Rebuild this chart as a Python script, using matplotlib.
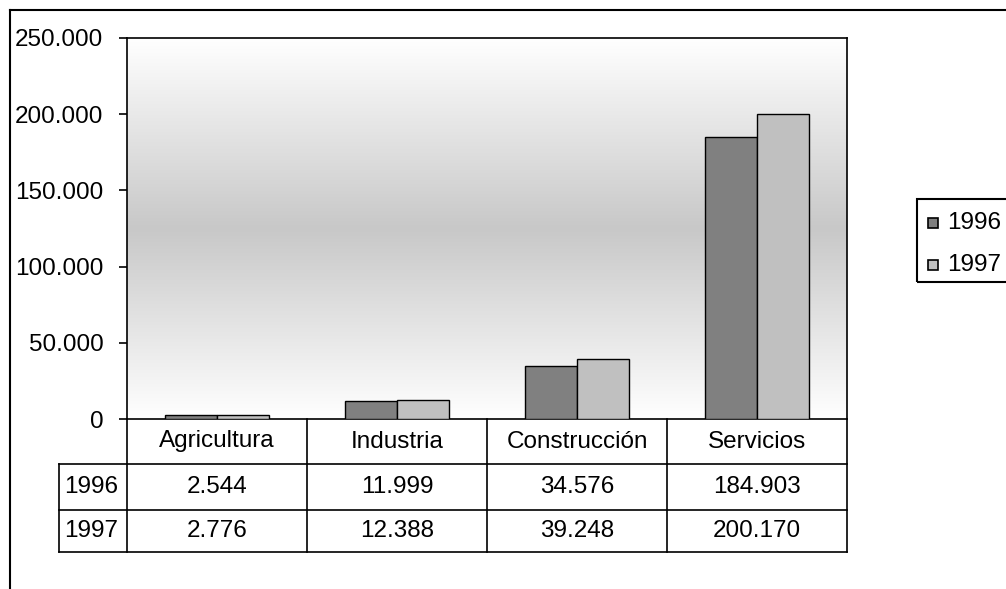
import numpy as np
import matplotlib
matplotlib.use("Agg")
import matplotlib.pyplot as plt
from matplotlib.colors import LinearSegmentedColormap
from matplotlib.patches import Rectangle
from matplotlib.lines import Line2D

categories = ["Agricultura", "Industria", "Construcción", "Servicios"]
years = ["1996", "1997"]
v1996 = [2544, 11999, 34576, 184903]
v1997 = [2776, 12388, 39248, 200170]
yticks = [0, 50000, 100000, 150000, 200000, 250000]

colors = ["#808080", "#c0c0c0"]
FS = 17.5

W, H = 1006, 589
plt.rcParams["font.family"] = ["Liberation Sans", "DejaVu Sans"]
fig = plt.figure(figsize=(W / 100, H / 100), dpi=100)


def fx(px):
    return px / W


def fy(py):
    return 1 - py / H


def fmt(v):
    return f"{v:,}".replace(",", ".")


# plot area in pixels
L, R, T, B = 127, 847, 38, 419
ax = fig.add_axes([fx(L), fy(B), fx(R) - fx(L), fy(T) - fy(B)])

n = len(categories)
x = np.arange(n)
bw = 0.29
ax.bar(x - bw / 2, v1996, bw, color=colors[0], edgecolor="black", linewidth=1, zorder=3)
ax.bar(x + bw / 2, v1997, bw, color=colors[1], edgecolor="black", linewidth=1, zorder=3)

ax.set_xlim(-0.5, n - 0.5)
ax.set_ylim(0, 250000)

# vertical gradient background: white - gray - white
cmap = LinearSegmentedColormap.from_list("bg", ["#ffffff", "#c8c8c8", "#ffffff"])
grad = np.linspace(0, 1, 256).reshape(-1, 1)
ax.imshow(grad, cmap=cmap, aspect="auto", extent=[-0.5, n - 0.5, 0, 250000],
          origin="lower", zorder=0)

ax.set_xticks([])
ax.set_yticks(yticks)
ax.set_yticklabels([fmt(v) for v in yticks], fontsize=FS)
ax.tick_params(axis="y", direction="out", length=6, width=1.2, pad=11)
for s in ax.spines.values():
    s.set_linewidth(1.2)
    s.set_color("black")

# data table below the plot
lw = 1.2
tl = 59
rows_y = [419, 464, 510, 552]


def hline(x0, x1, y):
    fig.add_artist(Line2D([fx(x0), fx(x1)], [fy(y), fy(y)], color="black", lw=lw))


def vline(x0, y0, y1):
    fig.add_artist(Line2D([fx(x0), fx(x0)], [fy(y0), fy(y1)], color="black", lw=lw))


hline(tl, R, rows_y[1])
hline(tl, R, rows_y[2])
hline(tl, R, rows_y[3])
vline(tl, rows_y[1], rows_y[3])
cw = (R - L) / n
for i in range(n + 1):
    vline(L + i * cw, rows_y[0], rows_y[3])

for i, c in enumerate(categories):
    cx = L + (i + 0.5) * cw
    fig.text(fx(cx), fy((rows_y[0] + rows_y[1]) / 2), c, ha="center", va="center", fontsize=FS)
    fig.text(fx(cx), fy((rows_y[1] + rows_y[2]) / 2), fmt(v1996[i]),
             ha="center", va="center", fontsize=FS)
    fig.text(fx(cx), fy((rows_y[2] + rows_y[3]) / 2), fmt(v1997[i]),
             ha="center", va="center", fontsize=FS)
for j, yr in enumerate(years):
    fig.text(fx(tl + 5), fy((rows_y[j + 1] + rows_y[j + 2]) / 2), yr, ha="left", va="center", fontsize=FS)

# legend box (cut by the right edge)
fig.add_artist(Rectangle((fx(917), fy(282)), fx(W + 20) - fx(917), fy(199) - fy(282),
                         fill=False, edgecolor="black", lw=1.5, clip_on=False))
for j, yr in enumerate(years):
    yc = [223, 265][j]
    fig.add_artist(Rectangle((fx(928), fy(yc + 5)), fx(10), fy(0) - fy(10),
                             facecolor=colors[j], edgecolor="black", lw=1.2))
    fig.text(fx(947), fy(yc), yr, ha="left", va="center", fontsize=FS)

# outer chart border
fig.add_artist(Line2D([fx(10), fx(10)], [fy(10), 0], color="black", lw=1.5))
fig.add_artist(Line2D([fx(10), 1], [fy(10), fy(10)], color="black", lw=1.5))

fig.savefig("out.png", dpi=100)
